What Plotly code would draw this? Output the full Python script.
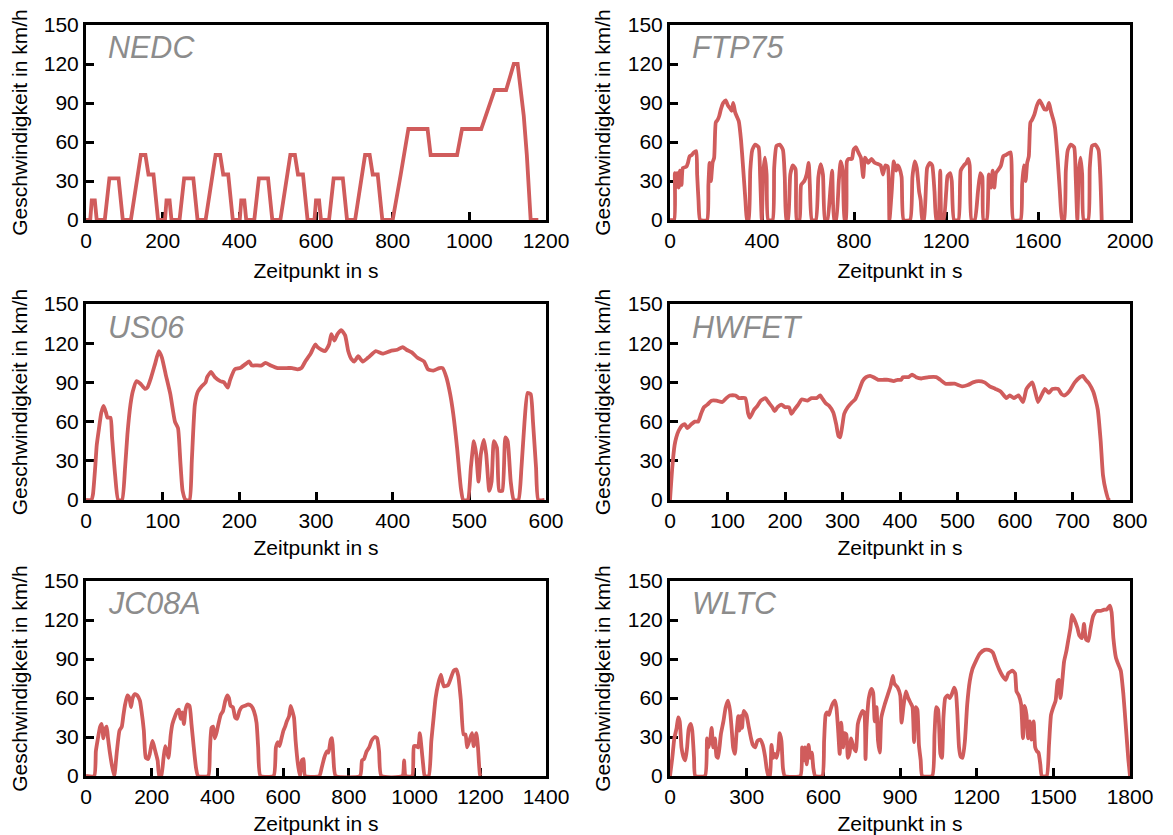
import plotly.graph_objects as go

# ---------------- data ----------------
nedc_t = [0, 11, 15, 23, 28, 49, 61, 85, 96, 117, 143, 155, 163, 176, 188, 195,
          206, 210, 218, 223, 244, 256, 280, 291, 312, 338, 350, 358, 371, 383, 390,
          401, 405, 413, 418, 439, 451, 475, 486, 507, 533, 545, 553, 566, 578, 585,
          596, 600, 608, 613, 634, 646, 670, 681, 702, 728, 740, 748, 761, 773, 780,
          800, 821, 841, 891, 899, 968, 981, 1031, 1066, 1096, 1116, 1126, 1142, 1150, 1160, 1180]
nedc_v = [0, 0, 15, 15, 0, 0, 32, 32, 0, 0, 50, 50, 35, 35, 0, 0,
          0, 15, 15, 0, 0, 32, 32, 0, 0, 50, 50, 35, 35, 0, 0,
          0, 15, 15, 0, 0, 32, 32, 0, 0, 50, 50, 35, 35, 0, 0,
          0, 15, 15, 0, 0, 32, 32, 0, 0, 50, 50, 35, 35, 0, 0,
          0, 35, 70, 70, 50, 50, 70, 70, 100, 100, 120, 120, 80, 50, 0, 0]

ftp_t = [0, 18, 21, 26, 31, 38, 43, 50, 56, 71, 78, 85, 95, 104, 114, 118, 124, 131, 161,
         167, 172, 178, 185, 192, 199, 207, 214, 221, 231, 242, 252, 261, 268, 275, 283, 292,
         299, 309, 318, 328, 335, 342, 349, 358, 370, 385, 392, 399, 406, 413, 420, 427, 446,
         453, 463, 477, 491, 499, 506, 513, 523, 534, 546, 551, 563, 570, 584, 594, 603, 608,
         617, 634, 645, 655, 665, 674, 684, 698, 705, 714, 722, 734, 742, 751, 759, 765, 769,
         776, 791, 798, 808, 819, 830, 840, 848, 862, 876, 890, 905, 916, 926, 936, 947, 954,
         964, 973, 983, 990, 997, 1007, 1016, 1044, 1054, 1064, 1073, 1083, 1090, 1097, 1104,
         1118, 1130, 1140, 1150, 1158, 1166, 1175, 1182, 1190, 1201, 1207, 1218, 1225, 1235,
         1254, 1264, 1278, 1289, 1296, 1303, 1311, 1325, 1339, 1349, 1358, 1363, 1377, 1386,
         1396, 1403, 1410, 1417, 1429, 1439, 1449, 1460, 1481, 1486, 1493, 1524, 1531, 1538,
         1546, 1553, 1560, 1567, 1574, 1584, 1595, 1607, 1617, 1628, 1638, 1648, 1657, 1667,
         1674, 1685, 1695, 1705, 1714, 1721, 1730, 1742, 1757, 1764, 1771, 1778, 1785, 1792,
         1799, 1818, 1825, 1835, 1849, 1863, 1871, 1877]
ftp_v = [0, 0, 36, 25, 36, 25, 38, 27, 40, 41, 44, 49, 50, 52, 53, 35, 15, 0, 0,
         27, 44, 30, 44, 48, 75, 77, 80, 85, 90, 92, 88, 86, 84, 90, 83, 79,
         76, 61, 40, 15, 0, 0, 38, 54, 58, 56, 33, 0, 38, 48, 35, 0, 0,
         40, 57, 58, 54, 33, 0, 0, 35, 42, 39, 0, 0, 27, 30, 35, 44, 27,
         0, 0, 33, 43, 35, 0, 0, 25, 38, 0, 0, 30, 45, 38, 0, 0, 45,
         47, 47, 54, 56, 52, 48, 33, 48, 44, 47, 44, 43, 42, 35, 42, 41, 0,
         22, 45, 38, 42, 40, 33, 0, 0, 33, 45, 40, 22, 15, 0, 0,
         40, 44, 42, 22, 0, 0, 38, 0, 0, 22, 34, 36, 30, 0,
         0, 38, 42, 44, 47, 42, 0, 0, 22, 36, 33, 0, 0, 35,
         25, 38, 25, 36, 39, 42, 49, 50, 52, 35, 0, 0, 27, 42,
         30, 44, 49, 75, 77, 81, 88, 92, 89, 85, 85, 90, 83, 77,
         71, 48, 22, 0, 0, 38, 54, 58, 56, 33, 0, 38, 48, 35,
         0, 0, 40, 57, 58, 54, 33, 0]

us06_t = [0, 7, 9, 12, 14, 17, 20, 23, 26, 28, 32, 34, 38, 42, 47, 51, 54, 58, 61, 66,
          71, 77, 80, 85, 90, 95, 99, 104, 110, 116, 120, 123, 126, 130, 135, 138, 142,
          146, 151, 156, 158, 163, 168, 175, 180, 185, 188, 194, 201, 208, 213, 216, 222,
          229, 234, 241, 250, 262, 269, 276, 281, 286, 293, 299, 302, 307, 312, 317, 320,
          324, 328, 333, 338, 342, 346, 350, 355, 361, 368, 378, 387, 397, 406, 413, 418,
          425, 432, 441, 446, 453, 461, 465, 470, 475, 479, 484, 489, 492, 498, 502, 506,
          509, 512, 515, 519, 522, 526, 529, 532, 536, 539, 543, 547, 550, 554, 558, 564,
          568, 572, 576, 580, 583, 587, 590, 598]
us06_v = [0, 0, 4, 25, 42, 55, 67, 72, 67, 63, 63, 48, 19, 0, 0, 25, 50, 73, 83, 91,
          89, 85, 86, 94, 104, 114, 109, 96, 81, 60, 55, 30, 7, 0, 0, 30, 73,
          83, 87, 90, 94, 98, 94, 91, 90, 86, 92, 100, 101, 104, 106, 103, 103,
          103, 105, 103, 101, 101, 101, 100, 101, 106, 112, 119, 117, 115, 114, 119, 127,
          122, 127, 130, 126, 114, 108, 106, 110, 106, 109, 114, 112, 114, 115, 117, 115,
          113, 109, 106, 100, 99, 101, 101, 94, 81, 66, 40, 9, 0, 0, 25, 45,
          35, 14, 35, 46, 35, 7, 14, 45, 40, 7, 7, 48, 45, 14, 0, 0,
          25, 60, 82, 81, 60, 25, 0, 0]

hwfet_t = [0, 4, 8, 11, 15, 21, 26, 30, 37, 43, 49, 54, 59, 65, 72, 81, 91, 98, 104, 114,
           120, 131, 136, 139, 146, 152, 158, 166, 171, 178, 182, 187, 194, 200, 207, 211,
           216, 223, 229, 239, 246, 255, 261, 266, 271, 277, 284, 289, 293, 296, 300, 303,
           309, 317, 322, 328, 335, 341, 348, 354, 362, 370, 380, 389, 396, 402, 405, 415,
           421, 428, 437, 450, 463, 470, 479, 495, 508, 518, 527, 537, 547, 556, 566, 575,
           585, 591, 598, 606, 614, 620, 630, 635, 640, 646, 652, 659, 665, 675, 681, 686,
           694, 704, 713, 718, 723, 729, 736, 740, 744, 749, 753, 758, 763, 766]
hwfet_v = [0, 25, 42, 48, 53, 57, 58, 55, 58, 60, 60, 66, 71, 73, 76, 76, 75, 78, 80, 80,
           78, 78, 66, 63, 69, 72, 76, 78, 75, 71, 68, 71, 73, 71, 71, 66,
           69, 73, 77, 76, 78, 78, 80, 77, 74, 72, 67, 58, 49, 48, 58, 66,
           71, 75, 77, 83, 91, 94, 95, 94, 92, 92, 92, 91, 92, 92, 94, 94,
           96, 94, 93, 94, 94, 92, 89, 89, 87, 88, 90, 91, 90, 87, 85, 83,
           78, 80, 78, 80, 75, 85, 90, 83, 75, 80, 85, 82, 85, 85, 81, 80,
           83, 90, 94, 95, 92, 89, 83, 77, 69, 45, 19, 7, 0, 0]

jc08_t = [0, 25, 30, 35, 43, 48, 53, 58, 63, 67, 72, 79, 86, 94, 102, 109, 114, 119, 126,
          132, 137, 142, 149, 156, 164, 169, 176, 182, 189, 194, 202, 206, 211, 218, 223,
          229, 236, 241, 246, 251, 258, 263, 271, 278, 283, 288, 293, 298, 303, 308, 315,
          321, 328, 335, 341, 372, 377, 382, 387, 392, 397, 404, 410, 417, 424, 430, 435,
          440, 447, 454, 460, 467, 474, 484, 494, 503, 511, 519, 524, 531, 571, 578, 584,
          589, 594, 601, 606, 611, 618, 623, 628, 633, 638, 645, 651, 657, 662, 667, 710,
          717, 725, 733, 738, 745, 749, 753, 760, 834, 840, 846, 854, 862, 869, 879, 886,
          892, 899, 963, 968, 973, 993, 998, 1005, 1011, 1016, 1021, 1026, 1031, 1043,
          1051, 1058, 1064, 1072, 1080, 1089, 1102, 1119, 1127, 1133, 1141, 1149, 1155,
          1160, 1169, 1175, 1180, 1188, 1193, 1199, 1202]
jc08_v = [0, 0, 19, 27, 38, 40, 29, 36, 38, 29, 19, 8, 0, 19, 35, 38, 47, 55, 62,
          60, 53, 60, 63, 62, 58, 50, 35, 14, 13, 17, 27, 24, 19, 12, 0,
          0, 14, 23, 19, 14, 32, 40, 46, 50, 51, 44, 49, 40, 51, 55, 54,
          40, 22, 6, 0, 0, 19, 37, 38, 29, 33, 41, 47, 50, 58, 62, 60,
          54, 53, 45, 44, 50, 53, 54, 55, 54, 50, 41, 22, 0, 0, 22, 26,
          23, 28, 35, 38, 42, 46, 54, 50, 45, 27, 9, 0, 12, 13, 0, 0,
          6, 14, 19, 18, 28, 29, 14, 0, 0, 12, 13, 19, 22, 27, 30, 29,
          19, 0, 0, 12, 0, 0, 23, 23, 22, 33, 22, 9, 0, 0,
          27, 45, 60, 71, 78, 69, 70, 81, 82, 77, 58, 32, 32,
          22, 29, 33, 23, 33, 22, 1, 0]

wltc_t = [0, 9, 17, 26, 32, 38, 45, 54, 60, 67, 73, 81, 87, 94, 99, 137, 145, 151, 158,
          163, 169, 176, 182, 188, 199, 209, 218, 227, 235, 241, 247, 254, 260, 267, 272,
          276, 282, 288, 299, 308, 317, 324, 333, 342, 353, 363, 372, 378, 385, 391, 397,
          404, 410, 417, 424, 429, 436, 442, 449, 510, 517, 522, 528, 535, 542, 549, 555,
          561, 568, 596, 603, 609, 615, 622, 628, 635, 645, 651, 658, 664, 670, 677, 683,
          690, 696, 703, 709, 718, 727, 735, 744, 753, 760, 765, 769, 778, 788, 795, 801,
          808, 814, 821, 827, 840, 853, 863, 872, 878, 891, 901, 906, 914, 923, 932, 942,
          949, 955, 962, 968, 974, 981, 987, 1026, 1035, 1042, 1049, 1058, 1064, 1070,
          1077, 1086, 1094, 1103, 1112, 1119, 1124, 1131, 1137, 1145, 1154, 1163, 1173,
          1183, 1196, 1212, 1231, 1247, 1263, 1276, 1288, 1301, 1314, 1324, 1340, 1350,
          1356, 1365, 1374, 1381, 1388, 1395, 1401, 1408, 1414, 1423, 1429, 1436, 1442,
          1449, 1455, 1474, 1483, 1491, 1500, 1509, 1517, 1522, 1528, 1535, 1542, 1551,
          1558, 1567, 1573, 1583, 1594, 1602, 1612, 1620, 1628, 1637, 1646, 1656, 1670,
          1685, 1699, 1709, 1721, 1728, 1735, 1745, 1754, 1764, 1774, 1783, 1793, 1800]
wltc_v = [0, 14, 29, 37, 45, 42, 22, 14, 12, 22, 36, 40, 35, 14, 0, 0, 29, 22, 29,
          37, 22, 29, 15, 14, 32, 42, 53, 58, 50, 37, 22, 17, 32, 46, 35,
          46, 37, 50, 47, 38, 29, 24, 22, 27, 28, 24, 15, 6, 0, 0, 24,
          14, 17, 14, 21, 33, 27, 6, 0, 0, 22, 12, 22, 9, 24, 14, 18,
          6, 0, 0, 27, 47, 49, 47, 51, 55, 58, 53, 35, 17, 41, 22, 33,
          32, 14, 18, 29, 22, 19, 40, 46, 50, 49, 13, 37, 60, 67, 64, 42,
          53, 27, 18, 45, 55, 63, 69, 77, 71, 68, 62, 41, 54, 65, 60, 56,
          53, 26, 53, 51, 24, 12, 0, 0, 32, 53, 51, 17, 14, 45,
          60, 62, 60, 63, 68, 64, 50, 22, 15, 14, 27, 55, 73,
          82, 88, 94, 97, 97, 95, 88, 82, 77, 74, 79, 81, 79,
          65, 62, 55, 29, 54, 47, 29, 42, 28, 42, 22, 19, 18,
          9, 0, 0, 24, 47, 53, 58, 73, 74, 60, 73, 88, 96,
          104, 114, 124, 120, 114, 108, 106, 117, 105, 104, 114, 123, 127,
          127, 128, 128, 131, 126, 106, 91, 86, 81, 63, 40, 14, 0]

cycle_names = ["NEDC", "FTP75", "US06", "HWFET", "JC08A", "WLTC"]
cycle_t = [nedc_t, ftp_t, us06_t, hwfet_t, jc08_t, wltc_t]
cycle_v = [nedc_v, ftp_v, us06_v, hwfet_v, jc08_v, wltc_v]
x_max = [1200, 2000, 600, 800, 1400, 1800]
x_step = [200, 400, 100, 100, 200, 300]
y_ticks = [0, 30, 60, 90, 120, 150]

x_label = "Zeitpunkt in s"
y_label = "Geschwindigkeit in km/h"

# ---------------- layout ----------------
W, H = 1173, 835
col_px = [(78, 538), (662, 1122)]
row_px = [(17, 212), (296, 492), (573, 768)]
line_color = "#D05C5C"
font_family = "Liberation Sans, Arial, Helvetica, sans-serif"

fig = go.Figure()
layout = dict(
    width=W, height=H,
    margin=dict(l=0, r=0, t=0, b=0),
    paper_bgcolor="white", plot_bgcolor="white",
    showlegend=False,
    font=dict(family=font_family, size=21, color="black"),
    annotations=[],
)

x_standoffs = [13, 13, 10, 10, 10, 10]

for i, name in enumerate(cycle_names):
    r, c = divmod(i, 2)
    xa = "x" if i == 0 else f"x{i+1}"
    ya = "y" if i == 0 else f"y{i+1}"
    xk = "xaxis" if i == 0 else f"xaxis{i+1}"
    yk = "yaxis" if i == 0 else f"yaxis{i+1}"
    x0, x1 = col_px[c]
    y0, y1 = row_px[r]
    shape = "linear" if name == "NEDC" else "spline"
    fig.add_trace(go.Scatter(
        x=cycle_t[i], y=cycle_v[i], mode="lines", xaxis=xa, yaxis=ya,
        line=dict(color=line_color, width=3.8, shape=shape, smoothing=0.5),
        hoverinfo="skip",
    ))
    axis_common = dict(
        showgrid=False, zeroline=False, showline=True, linecolor="black",
        linewidth=3, mirror=True, ticks="inside", ticklen=8, tickwidth=3,
        tickcolor="black", layer="below traces", automargin=False,
        tickfont=dict(family=font_family, size=21, color="black"),
    )
    layout[xk] = dict(
        axis_common, domain=[x0 / W, x1 / W], range=[0, x_max[i]],
        tickmode="linear", tick0=0, dtick=x_step[i], anchor=ya,
        title=dict(text=x_label, font=dict(size=21), standoff=x_standoffs[i]),
    )
    layout[yk] = dict(
        axis_common, domain=[1 - y1 / H, 1 - y0 / H], range=[0, 150],
        tickmode="array", tickvals=y_ticks, ticktext=[str(v) for v in y_ticks],
        anchor=xa,
        title=dict(text=y_label, font=dict(size=21), standoff=12),
    )
    layout["annotations"].append(dict(
        text=f"<i>{name}</i>", xref=f"{xa} domain", yref=f"{ya} domain",
        x=0.043, y=0.885, xanchor="left", yanchor="middle", showarrow=False,
        font=dict(family=font_family, size=30.5, color="#8C8C8C"),
    ))

fig.update_layout(**layout)
fig.write_html("out.html")
